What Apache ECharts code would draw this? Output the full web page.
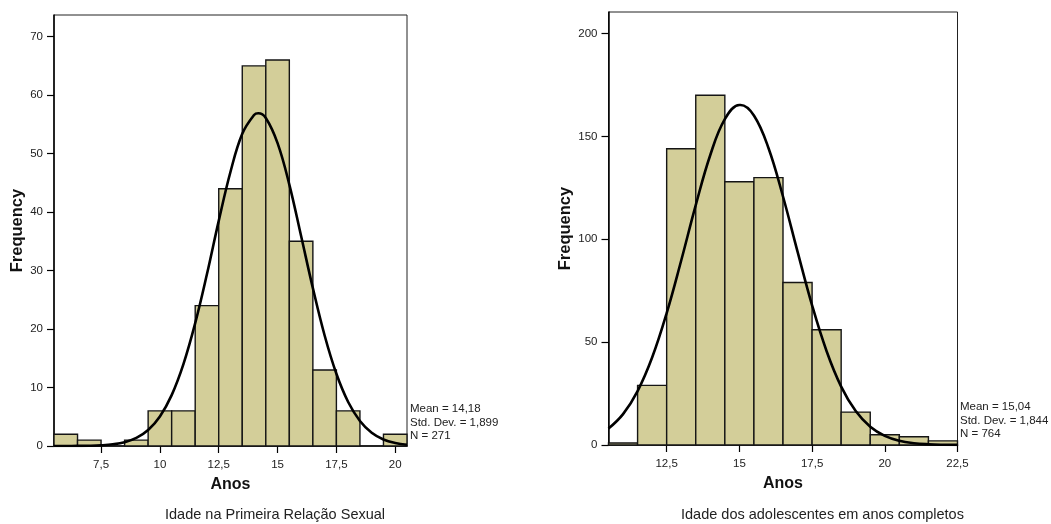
<!DOCTYPE html>
<html>
<head>
<meta charset="utf-8">
<script src="https://cdn.jsdelivr.net/npm/echarts@6/dist/echarts.min.js"></script>
<style>html,body{margin:0;padding:0;background:#fff}#c{width:1051px;height:524px}</style>
</head>
<body>
<div id="c"></div>
<script>
// Left histogram: Idade na Primeira Relação Sexual
const leftBins = [6, 7, 8, 9, 10, 11, 12, 13, 14, 15, 16, 17, 18, 19, 20];
const leftCounts = [2, 1, 0, 1, 6, 6, 24, 44, 65, 66, 35, 13, 6, 0, 2];
const leftCurveX = [5.5, 6, 6.5, 7, 7.5, 8, 8.5, 9, 9.5, 10, 10.5, 11, 11.5, 12, 12.5, 13, 13.5, 14, 14.18, 14.5, 15, 15.5, 16, 16.5, 17, 17.5, 18, 18.5, 19, 19.5, 20, 20.5];
const leftCurveY = [0.0, 0.005, 0.02, 0.045, 0.12, 0.29, 0.65, 1.38, 2.73, 5.05, 8.7, 14.0, 21.0, 29.4, 38.5, 46.9, 53.4, 56.6, 56.9, 56.1, 51.8, 44.7, 35.9, 27.0, 18.9, 12.35, 7.52, 4.28, 2.27, 1.12, 0.52, 0.22];
const leftXTicks = [7.5, 10, 12.5, 15, 17.5, 20];
const leftYTicks = [0, 10, 20, 30, 40, 50, 60, 70];
const leftStats = ["Mean = 14,18", "Std. Dev. = 1,899", "N = 271"];
const leftTitle = "Idade na Primeira Relação Sexual";

// Right histogram: Idade dos adolescentes em anos completos
const rightBins = [11, 12, 13, 14, 15, 16, 17, 18, 19, 20, 21, 22];
const rightCounts = [1, 29, 144, 170, 128, 130, 79, 56, 16, 5, 4, 2];
const rightCurveX = [10.5, 11, 11.5, 12, 12.5, 13, 13.5, 14, 14.5, 15, 15.04, 15.5, 16, 16.5, 17, 17.5, 18, 18.5, 19, 19.5, 20, 20.5, 21, 21.5, 22, 22.5];
const rightCurveY = [8.0, 15.0, 26.2, 42.5, 64.1, 89.7, 116.6, 141.0, 158.4, 165.3, 165.3, 160.2, 144.4, 120.8, 94.0, 67.9, 45.6, 28.4, 16.5, 8.87, 4.44, 2.06, 0.89, 0.36, 0.13, 0.05];
const rightXTicks = [12.5, 15, 17.5, 20, 22.5];
const rightYTicks = [0, 50, 100, 150, 200];
const rightStats = ["Mean = 15,04", "Std. Dev. = 1,844", "N = 764"];
const rightTitle = "Idade dos adolescentes em anos completos";

const xName = "Anos";
const yName = "Frequency";

const FONT = "Liberation Sans, Arial, sans-serif";
const BAR = "#d3ce99";
const fmt = v => String(v).replace('.', ',');

function toPairs(xs, ys) { return xs.map((x, i) => [x, ys[i]]); }

function renderBar(params, api) {
  const x = api.value(0), y = api.value(1);
  if (y <= 0) return null;
  const p1 = api.coord([x - 0.5, y]);
  const p2 = api.coord([x + 0.5, 0]);
  return {
    type: 'rect',
    shape: { x: p1[0], y: p1[1], width: p2[0] - p1[0], height: p2[1] - p1[1] },
    style: { fill: BAR, stroke: '#151515', lineWidth: 1.4 }
  };
}

function xAxis(idx, min, max, ticks) {
  return {
    type: 'value', gridIndex: idx, min: min, max: max,
    name: xName, nameLocation: 'middle', nameGap: 31,
    nameTextStyle: { fontFamily: FONT, fontSize: 16, fontWeight: 'bold', color: '#111' },
    splitLine: { show: false },
    axisLine: { show: true, lineStyle: { color: '#000', width: 1.5 } },
    axisTick: { show: true, length: 7, customValues: ticks, lineStyle: { color: '#000', width: 1.2 } },
    axisLabel: { customValues: ticks, formatter: fmt, fontFamily: FONT, fontSize: 11.5, color: '#222', margin: 13 }
  };
}
function yAxis(idx, max, ticks, gap) {
  return {
    type: 'value', gridIndex: idx, min: 0, max: max,
    name: yName, nameLocation: 'middle', nameGap: gap,
    nameTextStyle: { fontFamily: FONT, fontSize: 16.5, fontWeight: 'bold', color: '#111' },
    splitLine: { show: false },
    axisLine: { show: true, lineStyle: { color: '#000', width: 1.5 } },
    axisTick: { show: true, length: 7, customValues: ticks, lineStyle: { color: '#000', width: 1.2 } },
    axisLabel: { customValues: ticks, formatter: fmt, fontFamily: FONT, fontSize: 11.5, color: '#222', margin: 11 }
  };
}

function statsText(x, y, lines) {
  return lines.map((t, i) => ({
    type: 'text', left: x, top: y + i * 13.5,
    style: { text: t, fontFamily: FONT, fontSize: 11.5, fill: '#222' }
  }));
}

const chart = echarts.init(document.getElementById('c'), null, { renderer: 'canvas' });
chart.setOption({
  animation: false,
  backgroundColor: '#fff',
  grid: [
    { left: 54, top: 15, width: 353, height: 431, show: true, borderColor: '#222', borderWidth: 1, backgroundColor: 'transparent' },
    { left: 608.5, top: 12, width: 349, height: 433, show: true, borderColor: '#222', borderWidth: 1, backgroundColor: 'transparent' }
  ],
  xAxis: [xAxis(0, 5.5, 20.5, leftXTicks), xAxis(1, 10.5, 22.5, rightXTicks)],
  yAxis: [yAxis(0, 73.7, leftYTicks, 28), yAxis(1, 210.5, rightYTicks, 34)],
  series: [
    { type: 'custom', xAxisIndex: 0, yAxisIndex: 0, renderItem: renderBar, data: toPairs(leftBins, leftCounts), z: 2 },
    { type: 'line', xAxisIndex: 0, yAxisIndex: 0, data: toPairs(leftCurveX, leftCurveY), smooth: 0.4, symbol: 'none',
      lineStyle: { color: '#000', width: 2.6 }, z: 3 },
    { type: 'custom', xAxisIndex: 1, yAxisIndex: 1, renderItem: renderBar, data: toPairs(rightBins, rightCounts), z: 2 },
    { type: 'line', xAxisIndex: 1, yAxisIndex: 1, data: toPairs(rightCurveX, rightCurveY), smooth: 0.4, symbol: 'none',
      lineStyle: { color: '#000', width: 2.6 }, z: 3 }
  ],
  graphic: [
    ...statsText(410, 403, leftStats),
    ...statsText(960, 401, rightStats),
    { type: 'text', left: 165, top: 507, style: { text: leftTitle, fontFamily: FONT, fontSize: 14.5, fill: '#222' } },
    { type: 'text', left: 681, top: 507, style: { text: rightTitle, fontFamily: FONT, fontSize: 14.5, fill: '#222' } }
  ]
});
</script>
</body>
</html>
